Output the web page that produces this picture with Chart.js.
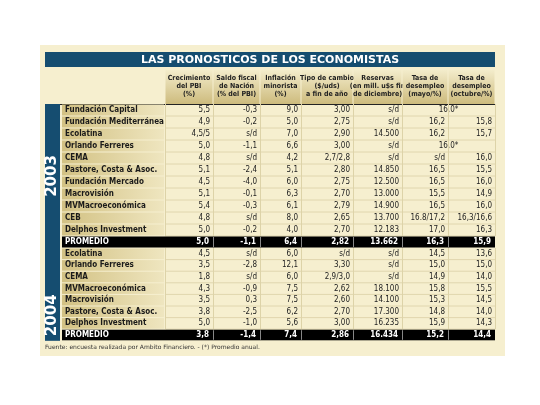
<!DOCTYPE html>
<html><head><meta charset="utf-8">
<script src="https://cdn.jsdelivr.net/npm/chart.js@4"></script>
<style>html,body{margin:0;padding:0;background:#fff}#c{display:block}</style>
</head><body>
<div style="width:540px;height:405px"><canvas id="c" width="540" height="405"></canvas></div>
<script>
const title = "LAS PRONOSTICOS DE LOS ECONOMISTAS";
const headers = [["Crecimiento","del PBI","(%)"],["Saldo fiscal","de Nación","(% del PBI)"],["Inflación","minorista","(%)"],["Tipo de cambio","($/uds)","a fin de año"],["Reservas","(en mill. u$s fin","de diciembre)"],["Tasa de","desempleo","(mayo/%)"],["Tasa de","desempleo","(octubre/%)"]];
const names2003 = ["Fundación Capital","Fundación Mediterránea","Ecolatina","Orlando Ferreres","CEMA","Pastore, Costa & Asoc.","Fundación Mercado","Macrovisión","MVMacroeconómica","CEB","Delphos Investment"];
const values2003 = [
 ["5,5","-0,3","9,0","3,00","s/d","16,0*",null],
 ["4,9","-0,2","5,0","2,75","s/d","16,2","15,8"],
 ["4,5/5","s/d","7,0","2,90","14.500","16,2","15,7"],
 ["5,0","-1,1","6,6","3,00","s/d","16,0*",null],
 ["4,8","s/d","4,2","2,7/2,8","s/d","s/d","16,0"],
 ["5,1","-2,4","5,1","2,80","14.850","16,5","15,5"],
 ["4,5","-4,0","6,0","2,75","12.500","16,5","16,0"],
 ["5,1","-0,1","6,3","2,70","13.000","15,5","14,9"],
 ["5,4","-0,3","6,1","2,79","14.900","16,5","16,0"],
 ["4,8","s/d","8,0","2,65","13.700","16.8/17,2","16,3/16,6"],
 ["5,0","-0,2","4,0","2,70","12.183","17,0","16,3"]];
const avg2003 = ["5,0","-1,1","6,4","2,82","13.662","16,3","15,9"];
const names2004 = ["Ecolatina","Orlando Ferreres","CEMA","MVMacroeconómica","Macrovisión","Pastore, Costa & Asoc.","Delphos Investment"];
const values2004 = [
 ["4,5","s/d","6,0","s/d","s/d","14,5","13,6"],
 ["3,5","-2,8","12,1","3,30","s/d","15,0","15,0"],
 ["1,8","s/d","6,0","2,9/3,0","s/d","14,9","14,0"],
 ["4,3","-0,9","7,5","2,62","18.100","15,8","15,5"],
 ["3,5","0,3","7,5","2,60","14.100","15,3","14,5"],
 ["3,8","-2,5","6,2","2,70","17.300","14,8","14,0"],
 ["5,0","-1,0","5,6","3,00","16.235","15,9","14,3"]];
const avg2004 = ["3,8","-1,4","7,4","2,86","16.434","15,2","14,4"];
const years = ["2003","2004"];
const footnote = "Fuente: encuesta realizada por Ambito Financiero. - (*) Promedio anual.";

// layout (page coordinates, resolved through the chart scales)
const colEdges=[165,213,260,301,353,402,448,495];
const nameX=[62,165], yearX=[45,60];
const F='"Liberation Sans Narrow","DejaVu Sans Condensed","Liberation Sans",sans-serif';

const tablePlugin={id:'table',afterDraw(ch){
 const c=ch.ctx,X=v=>ch.scales.x.getPixelForValue(v),Y=v=>ch.scales.y.getPixelForValue(v);
 c.save();
 c.fillStyle='#f6efcf';c.fillRect(X(40),Y(45),X(505)-X(40),Y(356)-Y(45));
 c.fillStyle='#154d70';c.fillRect(X(45),Y(52),X(495)-X(45),Y(67)-Y(52));
 c.fillStyle='#fff';c.font='bold 11px "DejaVu Sans",sans-serif';c.textAlign='center';c.textBaseline='middle';
 c.fillText(title,X(270),Y(60));
 // headers
 for(let i=0;i<7;i++){const x0=X(colEdges[i]),x1=X(colEdges[i+1]);
  const g=c.createLinearGradient(0,Y(70),0,Y(104));g.addColorStop(0,'#f3eccb');g.addColorStop(1,'#cdbb7d');
  c.fillStyle=g;c.fillRect(x0+0.5,Y(70),x1-x0-1,Y(104)-Y(70));
  c.fillStyle='#222';c.font='bold 7px '+F;
  headers[i].forEach((t,k)=>c.fillText(t,(x0+x1)/2,Y(78+k*8)));}
 c.strokeStyle='#222';c.lineWidth=1;c.beginPath();c.moveTo(X(45),Y(104.5));c.lineTo(X(495),Y(104.5));c.stroke();
 function block(names,vals,avg,y0,h,year){
  const n=names.length;
  c.fillStyle='#154d70';c.fillRect(X(yearX[0]),Y(y0),X(yearX[1])-X(yearX[0]),Y(y0+h*(n+1))-Y(y0));
  c.save();c.translate(X(52.5),Y(y0+h*(n+1)/2));c.rotate(-Math.PI/2);c.fillStyle='#fff';c.font='bold 15px "DejaVu Sans",sans-serif';c.fillText(year,0,0);c.restore();
  for(let r=0;r<n;r++){const yt=Y(y0+r*h),yb=Y(y0+(r+1)*h),ym=(yt+yb)/2;
   const g=c.createLinearGradient(X(nameX[0]),0,X(nameX[1]),0);g.addColorStop(0,'#d2c183');g.addColorStop(1,'#efe6c0');
   c.fillStyle=g;c.fillRect(X(nameX[0]),yt+0.5,X(nameX[1])-X(nameX[0])-1,yb-yt-1);
   c.fillStyle='#1a1a1a';c.font='bold 8px '+F;c.textAlign='left';c.fillText(names[r],X(nameX[0]+3),ym);
   c.strokeStyle='#e0d6ae';c.beginPath();c.moveTo(X(colEdges[0]),yb);c.lineTo(X(495),yb);c.stroke();
   c.font='8px '+F;c.fillStyle='#222';
   vals[r].forEach((v,i)=>{if(v===null)return;
    if(vals[r][i+1]===null&&i<6){c.textAlign='center';c.fillText(v,X((colEdges[i]+colEdges[i+2])/2),ym);}
    else{c.textAlign='right';c.fillText(v,X(colEdges[i+1]-3),ym);}});}
  const yt=Y(y0+n*h),yb=Y(y0+(n+1)*h),ym=(yt+yb)/2;
  c.fillStyle='#000';c.fillRect(X(nameX[0]),yt+0.5,X(495)-X(nameX[0]),yb-yt-1);
  c.fillStyle='#fff';c.font='bold 8px '+F;c.textAlign='left';c.fillText('PROMEDIO',X(nameX[0]+3),ym);
  c.textAlign='right';avg.forEach((v,i)=>c.fillText(v,X(colEdges[i+1]-4),ym));
  c.strokeStyle='#888';for(let i=1;i<7;i++){c.beginPath();c.moveTo(X(colEdges[i])+0.5,yt+1);c.lineTo(X(colEdges[i])+0.5,yb-1);c.stroke();}
  c.strokeStyle='#ddd3a8';for(let i=0;i<8;i++){c.beginPath();c.moveTo(X(colEdges[i])+0.5,Y(y0));c.lineTo(X(colEdges[i])+0.5,yt);c.stroke();}
 }
 block(names2003,values2003,avg2003,104,12,years[0]);
 block(names2004,values2004,avg2004,248,11.6,years[1]);
 c.fillStyle='#333';c.font='6px "DejaVu Sans",sans-serif';c.textAlign='left';c.fillText(footnote,X(45),Y(347));
 c.restore();}};

new Chart(document.getElementById('c'),{type:'scatter',data:{datasets:[{data:[],pointRadius:0}]},
 options:{responsive:false,animation:false,layout:{padding:0},plugins:{legend:{display:false},tooltip:{enabled:false}},
  scales:{x:{type:'linear',min:0,max:540,display:false},y:{type:'linear',min:0,max:405,reverse:true,display:false}}},
 plugins:[tablePlugin]});
</script></body></html>
